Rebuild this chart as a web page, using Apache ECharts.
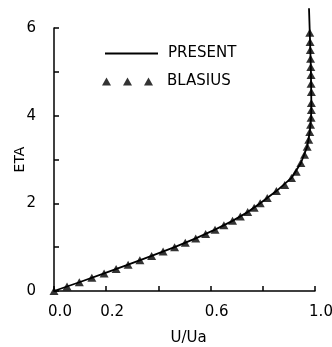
<!DOCTYPE html>
<html>
<head>
<meta charset="utf-8">
<script src="https://cdn.jsdelivr.net/npm/echarts@6/dist/echarts.min.js"></script>
<style>
  html, body { margin: 0; padding: 0; background: #fff; }
  #chart { width: 332px; height: 347px; }
</style>
</head>
<body>
<div id="chart"></div>
<script>
// Blasius boundary layer profile: U/Ua against ETA
const blasiusEta = [0, 0.1, 0.2, 0.3, 0.4, 0.5, 0.6, 0.7, 0.8, 0.9, 1.0, 1.1, 1.2, 1.3, 1.4, 1.5, 1.6, 1.7, 1.8, 1.9, 2.0,
  2.12, 2.28, 2.42, 2.58, 2.72, 2.92, 3.11, 3.29, 3.45, 3.63, 3.79, 3.95, 4.13, 4.29, 4.54, 4.73, 4.93, 5.11, 5.30, 5.50, 5.68, 5.89];
const blasiusU = [0, 0.050, 0.097, 0.145, 0.192, 0.238, 0.284, 0.329, 0.374, 0.418, 0.462, 0.503, 0.543, 0.581, 0.617, 0.651, 0.684, 0.714, 0.742, 0.767, 0.790,
  0.817, 0.852, 0.884, 0.910, 0.928, 0.946, 0.960, 0.970, 0.976, 0.980, 0.983, 0.985, 0.986, 0.986, 0.986, 0.985, 0.985, 0.984, 0.983, 0.982, 0.981, 0.980];

const presentEta = [0, 0.2, 0.4, 0.6, 0.8, 1.0, 1.2, 1.4, 1.6, 1.8, 2.0, 2.28, 2.58, 2.92, 3.29, 3.63, 3.95, 4.29, 4.73, 5.11, 5.50, 5.89, 6.45];
const presentU = [0, 0.097, 0.192, 0.284, 0.374, 0.462, 0.543, 0.617, 0.684, 0.742, 0.790, 0.852, 0.910, 0.946, 0.970, 0.980, 0.985, 0.986, 0.985, 0.984, 0.982, 0.980, 0.977];

const xTickLabels = ['0.0', '0.2', '', '0.6', '', '1.0'];
const yTickLabels = ['0', '', '2', '', '4', '', '6'];

const font = 'DejaVu Sans';
const chart = echarts.init(document.getElementById('chart'));

chart.setOption({
  animation: false,
  backgroundColor: '#fff',
  grid: { left: 54, right: 17, top: 28, bottom: 56, outerBoundsMode: 'none' },
  legend: [
    {
      data: [{ name: 'PRESENT', icon: 'path://M0,0H53V2H0Z' }],
      left: 100, top: 41,
      itemWidth: 53, itemHeight: 14,
      textStyle: { fontFamily: font, fontSize: 15, color: '#000', padding: [0, 0, 0, 5] }
    },
    {
      data: [{ name: 'BLASIUS', icon: 'path://M0,8L4.5,0L9,8ZM21,8L25.5,0L30,8ZM42,8L46.5,0L51,8Z' }],
      left: 97, top: 69,
      itemWidth: 51, itemHeight: 8,
      textStyle: { fontFamily: font, fontSize: 15, color: '#000', padding: [0, 0, 0, 9] }
    }
  ],
  xAxis: {
    type: 'value',
    min: 0, max: 1, interval: 0.2,
    name: 'U/Ua',
    nameLocation: 'middle',
    nameGap: 40,
    nameTextStyle: { fontFamily: font, fontSize: 15, color: '#000', padding: [0, 0, 0, 8] },
    splitLine: { show: false },
    axisLine: { lineStyle: { color: '#000', width: 1.5 } },
    axisTick: { inside: true, length: 5, lineStyle: { color: '#000', width: 1.5 } },
    axisLabel: {
      margin: 14,
      fontFamily: font, fontSize: 15, color: '#000',
      padding: [0, 0, 0, 12],
      formatter: v => xTickLabels[Math.round(v / 0.2)]
    }
  },
  yAxis: {
    type: 'value',
    min: 0, max: 6, interval: 1,
    name: 'ETA',
    nameLocation: 'middle',
    nameGap: 27,
    nameMoveOverlap: false,
    nameTextStyle: { fontFamily: font, fontSize: 14, color: '#000' },
    splitLine: { show: false },
    axisLine: { lineStyle: { color: '#000', width: 1.5 } },
    axisTick: { inside: true, length: 5, lineStyle: { color: '#000', width: 1.5 } },
    axisLabel: {
      margin: 18,
      fontFamily: font, fontSize: 15, color: '#000',
      formatter: v => yTickLabels[Math.round(v)]
    }
  },
  series: [
    {
      name: 'PRESENT',
      type: 'line',
      symbol: 'none',
      clip: false,
      lineStyle: { color: '#000', width: 1.8 },
      itemStyle: { color: '#000' },
      data: presentU.map((u, i) => [u, presentEta[i]])
    },
    {
      name: 'BLASIUS',
      type: 'scatter',
      symbol: 'triangle',
      symbolSize: [9, 8],
      clip: false,
      itemStyle: { color: '#000' },
      data: blasiusU.map((u, i) => [u, blasiusEta[i]])
    }
  ]
});
</script>
</body>
</html>
